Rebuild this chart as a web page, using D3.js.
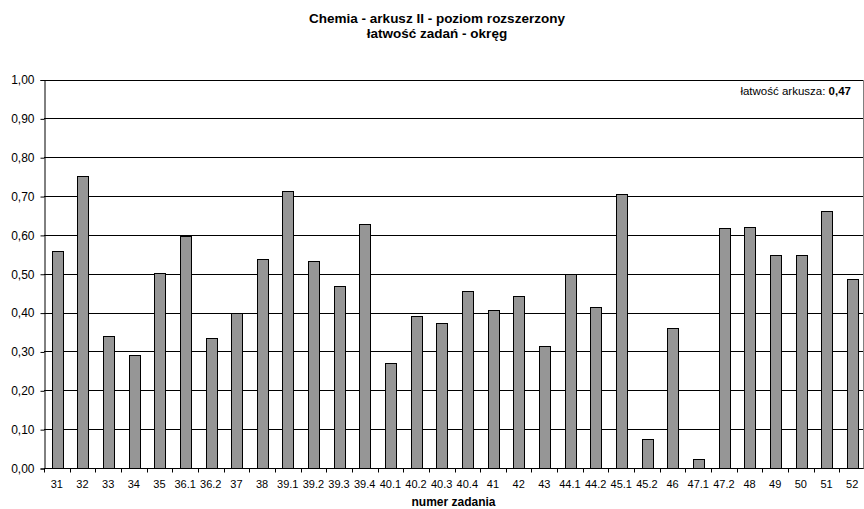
<!DOCTYPE html>
<html>
<head>
<meta charset="utf-8">
<script src="https://cdn.jsdelivr.net/npm/d3@7"></script>
<style>
  body { margin: 0; background: #fff; }
  svg { display: block; font-family: Arial, "Liberation Sans", sans-serif; }
</style>
</head>
<body>
<div id="chart-area"></div>
<script>
// DATA
var zadania = ["31", "32", "33", "34", "35", "36.1", "36.2", "37", "38", "39.1", "39.2", "39.3",
    "39.4", "40.1", "40.2", "40.3", "40.4", "41", "42", "43", "44.1", "44.2", "45.1", "45.2",
    "46", "47.1", "47.2", "48", "49", "50", "51", "52"];
var latwosc = [0.558, 0.752, 0.340, 0.292, 0.503, 0.596, 0.335, 0.398, 0.538, 0.712, 0.534, 0.469,
    0.629, 0.270, 0.392, 0.373, 0.456, 0.406, 0.442, 0.315, 0.500, 0.414, 0.706, 0.074,
    0.360, 0.024, 0.619, 0.621, 0.547, 0.549, 0.662, 0.486];
var yTicks = [0, 0.1, 0.2, 0.3, 0.4, 0.5, 0.6, 0.7, 0.8, 0.9, 1.0];
var latwoscArkusza = "0,47";

var W = 864, H = 509;
var plot = { left: 44, right: 865, top: 79.5, bottom: 468 };

var svg = d3.select("#chart-area")
    .append("svg")
        .attr("width", W)
        .attr("height", H);

// SCALES
var x = d3.scaleBand()
    .domain(zadania)
    .range([plot.left, plot.right])
    .paddingInner(0.59)
    .paddingOuter(0.295);

var y = d3.scaleLinear()
    .domain([0, 1])
    .range([plot.bottom, plot.top]);

var fmt = function(d) { return d3.format(".2f")(d).replace(".", ","); };

// GRIDLINES
svg.append("g")
    .selectAll("line")
    .data(yTicks)
    .enter().append("line")
        .attr("x1", plot.left)
        .attr("x2", 863.5)
        .attr("y1", function(d) { return Math.round(y(d)) + 0.5; })
        .attr("y2", function(d) { return Math.round(y(d)) + 0.5; })
        .attr("stroke", "#000")
        .attr("stroke-width", 1);

// right border of the plot area
svg.append("line")
    .attr("x1", 863.5).attr("x2", 863.5)
    .attr("y1", Math.round(y(1)) + 0.5).attr("y2", Math.round(y(0)) + 0.5)
    .attr("stroke", "#808080");

// BARS
svg.append("g")
    .selectAll("rect")
    .data(latwosc)
    .enter().append("rect")
        .attr("x", function(d, i) { return Math.round(x(zadania[i])) + 0.5; })
        .attr("y", function(d) { return Math.round(y(d)) + 0.5; })
        .attr("width", Math.round(x.bandwidth()))
        .attr("height", function(d) { return Math.round(y(0)) - Math.round(y(d)); })
        .attr("fill", "#969696")
        .attr("stroke", "#000")
        .attr("stroke-width", 1);

// Y AXIS
var yAxisCall = d3.axisLeft(y)
    .tickValues(yTicks)
    .tickSize(4)
    .tickPadding(6)
    .tickFormat(fmt);
var yAxis = svg.append("g")
    .attr("transform", "translate(" + (plot.left + 0.5) + ",0.5)")
    .call(yAxisCall);
yAxis.select(".domain").attr("stroke", "#000");
yAxis.selectAll("text")
    .attr("font-size", "12px")
    .attr("font-family", "Arial, 'Liberation Sans', sans-serif")
    .attr("fill", "#000");

// X AXIS (ticks between categories)
var xAxis = svg.append("g")
    .attr("transform", "translate(0," + (Math.round(y(0)) + 0.5) + ")");
xAxis.append("line")
    .attr("x1", plot.left).attr("x2", 863.5)
    .attr("stroke", "#000");
xAxis.selectAll(".tick")
    .data(d3.range(zadania.length + 1))
    .enter().append("line")
        .attr("x1", function(i) { return Math.round(plot.left + i * x.step()) + 0.5; })
        .attr("x2", function(i) { return Math.round(plot.left + i * x.step()) + 0.5; })
        .attr("y1", 0)
        .attr("y2", 4)
        .attr("stroke", "#000");
xAxis.selectAll("text")
    .data(zadania)
    .enter().append("text")
        .attr("x", function(d) { return x(d) + x.bandwidth() / 2; })
        .attr("y", 19)
        .attr("text-anchor", "middle")
        .attr("font-size", "11px")
        .text(function(d) { return d; });

// LABELS
svg.append("text")
    .attr("x", 437)
    .attr("y", 23)
    .attr("text-anchor", "middle")
    .attr("font-size", "13.5px")
    .attr("font-weight", "bold")
    .text("Chemia - arkusz II - poziom rozszerzony");

svg.append("text")
    .attr("x", 437)
    .attr("y", 37.5)
    .attr("text-anchor", "middle")
    .attr("font-size", "13.5px")
    .attr("font-weight", "bold")
    .text("łatwość zadań - okręg");

svg.append("text")
    .attr("x", 453.5)
    .attr("y", 506)
    .attr("text-anchor", "middle")
    .attr("font-size", "12px")
    .attr("font-weight", "bold")
    .text("numer zadania");

var note = svg.append("text")
    .attr("x", 851)
    .attr("y", 95)
    .attr("text-anchor", "end")
    .attr("font-size", "11.5px");
note.append("tspan").text("łatwość arkusza: ");
note.append("tspan").attr("font-weight", "bold").text(latwoscArkusza);
</script>
</body>
</html>
